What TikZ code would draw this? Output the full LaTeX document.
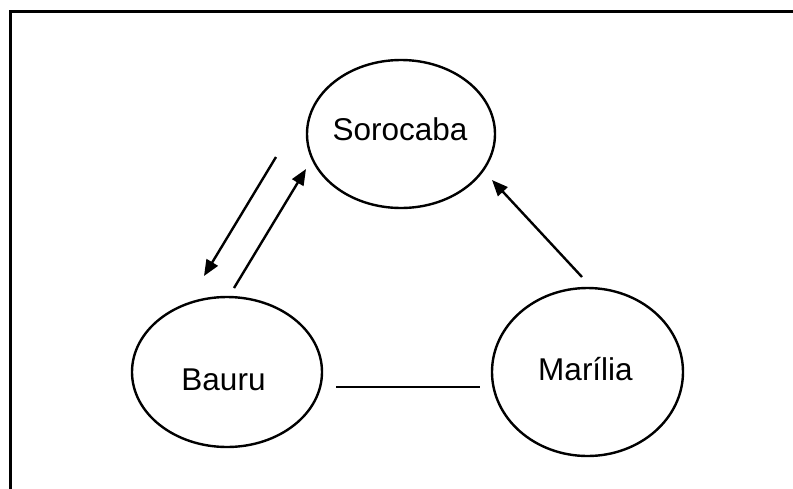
\documentclass[tikz,border=0pt]{standalone}
\usepackage{fontspec}
\setmainfont{Liberation Sans}
\usetikzlibrary{shapes.geometric,arrows.meta}
\begin{document}
\begin{tikzpicture}[x=1pt,y=-1pt,
  city/.style={draw=black,ellipse,line width=2.4pt,inner sep=0pt},
  lbl/.style={inner sep=0pt,anchor=base,font=\fontsize{31.5}{38}\selectfont},
  conn/.style={line width=2.4pt},
  arr/.style={line width=2.4pt,-{Triangle[length=16pt,width=13pt]}}]
\useasboundingbox (0,0) rectangle (793,488);
\draw[line width=2.4pt] (10.5,11.5) rectangle (900,700);
\node[city,minimum width=188pt,minimum height=148pt] (s) at (401,134) {};
\node[city,minimum width=190pt,minimum height=150pt] (b) at (227,372) {};
\node[city,minimum width=191pt,minimum height=168pt] (m) at (587.5,372) {};
\node[lbl] (st) at (400,140) {Sorocaba};
\node[lbl] (bt) at (223.5,390) {Bauru};
\node[lbl] (mt) at (585.5,380) {Marília};
\coordinate (a1s) at (276,157);
\coordinate (a1e) at (204,276);
\coordinate (a2s) at (234,288);
\coordinate (a2e) at (306,169);
\coordinate (a3s) at (582,277);
\coordinate (a3e) at (492,180);
\coordinate (l1s) at (336,387);
\coordinate (l1e) at (480,387);
\draw[arr] (a1s) -- (a1e);
\draw[arr] (a2s) -- (a2e);
\draw[arr] (a3s) -- (a3e);
\draw[conn] (l1s) -- (l1e);
\end{tikzpicture}
\end{document}
